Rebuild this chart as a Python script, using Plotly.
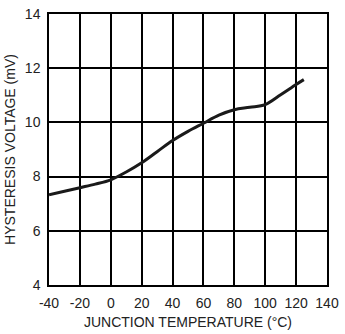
import plotly.graph_objects as go

temps = [-40, -30, -20, -10, 0, 10, 20, 30, 40, 50, 60, 70, 80, 90, 100, 110, 120, 125]
hyst_mv = [7.33, 7.46, 7.59, 7.72, 7.88, 8.17, 8.51, 8.92, 9.33, 9.67, 9.97, 10.27, 10.47, 10.56, 10.66, 11.02, 11.4, 11.58]

x_ticks = [-40, -20, 0, 20, 40, 60, 80, 100, 120, 140]
x_labels = ["-40", "-20", "0", "20", "40", "60", "80", "100", "120", "140"]
y_ticks = [4, 6, 8, 10, 12, 14]
y_labels = ["4", "6", "8", "10", "12", "14"]

fig = go.Figure()
fig.add_trace(go.Scatter(
    x=temps, y=hyst_mv, mode="lines",
    line=dict(color="#1a1a1a", width=3, shape="spline", smoothing=1.0),
    showlegend=False, hoverinfo="skip"))

axis_common = dict(
    showgrid=True, gridcolor="black", gridwidth=1.5,
    showline=True, linecolor="black", linewidth=1.5, mirror=True,
    zeroline=False, ticks="", ticklabeloverflow="allow",
    tickfont=dict(family="Liberation Sans, Arial, sans-serif", size=14, color="#222"),
)

fig.update_layout(
    width=345, height=334,
    margin=dict(l=49, r=12, t=6, b=44),
    paper_bgcolor="white", plot_bgcolor="white",
    font=dict(family="Liberation Sans, Arial, sans-serif", color="#222"),
    xaxis=dict(range=[-40.01, 140.01], tickvals=x_ticks, ticktext=x_labels,
               ticklabelstandoff=4,
               title=dict(text="JUNCTION TEMPERATURE (°C)", font=dict(size=14), standoff=8),
               **axis_common),
    yaxis=dict(range=[3.995, 14.005], tickvals=y_ticks, ticktext=y_labels,
               ticklabelstandoff=4,
               title=dict(text="HYSTERESIS VOLTAGE (mV)", font=dict(size=14), standoff=6),
               **axis_common),
)

fig.write_html("out.html")
